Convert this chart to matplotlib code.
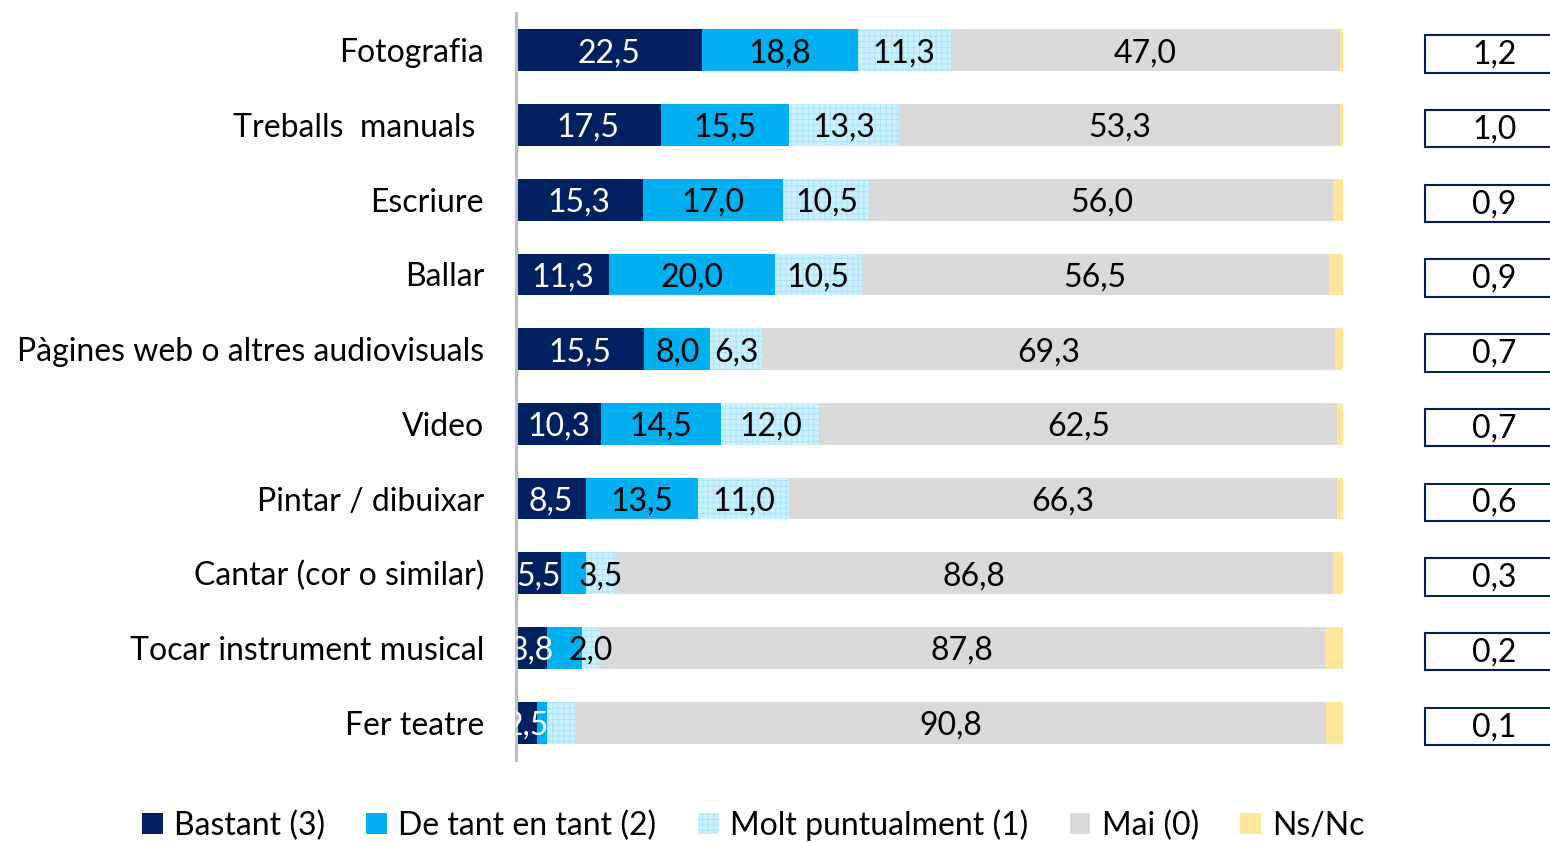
import matplotlib
matplotlib.use("Agg")
import matplotlib.pyplot as plt
from matplotlib.patches import Rectangle, Patch

plt.rcParams['font.family'] = ['Lato', 'DejaVu Sans']
plt.rcParams['hatch.linewidth'] = 0.6

categories = ["Fotografia", "Treballs  manuals ", "Escriure", "Ballar",
              "Pàgines web o altres audiovisuals", "Video", "Pintar / dibuixar",
              "Cantar (cor o similar)", "Tocar instrument musical", "Fer teatre"]
bastant = [22.5, 17.5, 15.3, 11.3, 15.5, 10.3, 8.5, 5.5, 3.8, 2.5]
de_tant = [18.8, 15.5, 17.0, 20.0, 8.0, 14.5, 13.5, 3.0, 4.2, 1.3]
molt = [11.3, 13.3, 10.5, 10.5, 6.3, 12.0, 11.0, 3.5, 2.0, 3.4]
mai = [47.0, 53.3, 56.0, 56.5, 69.3, 62.5, 66.3, 86.8, 87.8, 90.8]
nsnc = [0.4, 0.4, 1.2, 1.7, 0.9, 0.7, 0.7, 1.2, 2.2, 2.0]
mitjana = [1.2, 1.0, 0.9, 0.9, 0.7, 0.7, 0.6, 0.3, 0.2, 0.1]

# labels that the original does not show
hide_de_tant = [7, 8, 9]
hide_molt = [9]

series = [
    ("Bastant (3)", bastant, "#002060", "white"),
    ("De tant en tant (2)", de_tant, "#00B0F0", "black"),
    ("Molt puntualment (1)", molt, "#CCF0FF", "black"),
    ("Mai (0)", mai, "#D9D9D9", "black"),
    ("Ns/Nc", nsnc, "#FFE699", None),
]

FS = 23

def fmt(v):
    return f"{v:.1f}".replace(".", ",")

fig = plt.figure(figsize=(15.5, 8.42), dpi=100)
ax = fig.add_axes([0.3329, 0.0974, 0.5335, 0.8872])

y = list(range(len(categories)))
left = [0.0] * len(categories)
handles = []
for si, (name, vals, color, tcol) in enumerate(series):
    if si == 2:
        ax.barh(y, vals, left=left, height=0.56, color=color,
                edgecolor="#A6E3FA", linewidth=0, hatch="+++")
    else:
        ax.barh(y, vals, left=left, height=0.56, color=color, linewidth=0)
    handles.append(Patch(facecolor=color, edgecolor="#A6E3FA" if si == 2 else color,
                         linewidth=0, hatch="+++" if si == 2 else None, label=name))
    if tcol is not None:
        for i, v in enumerate(vals):
            if si == 1 and i in hide_de_tant:
                continue
            if si == 2 and i in hide_molt:
                continue
            ax.text(left[i] + v / 2, i + 0.04, fmt(v), ha="center", va="center",
                    color=tcol, fontsize=FS, clip_on=True)
    left = [l + v for l, v in zip(left, vals)]

# average boxes on the right
for i, m in enumerate(mitjana):
    ax.add_patch(Rectangle((109.9, i - 0.2), 20, 0.5, facecolor="white",
                           edgecolor="#002060", linewidth=1.5, clip_on=False))
    ax.text(118.3, i + 0.06, fmt(m), ha="center", va="center", fontsize=FS,
            clip_on=False)

ax.set_xlim(0, 100)
ax.set_ylim(9.5, -0.5)
ax.set_yticks(y)
ax.set_yticklabels(categories, fontsize=FS)
ax.tick_params(axis="y", length=0, pad=23)
ax.set_xticks([])
for s in ["top", "right", "bottom"]:
    ax.spines[s].set_visible(False)
ax.spines["left"].set_color("#BFBFBF")
ax.spines["left"].set_linewidth(2.2)

fig.legend(handles=handles, loc="center", bbox_to_anchor=(0.486, 0.02),
           ncol=5, frameon=False, fontsize=FS, handlelength=0.65,
           handleheight=0.65, handletextpad=0.35, columnspacing=1.3)

fig.savefig("out.png", dpi=100)
